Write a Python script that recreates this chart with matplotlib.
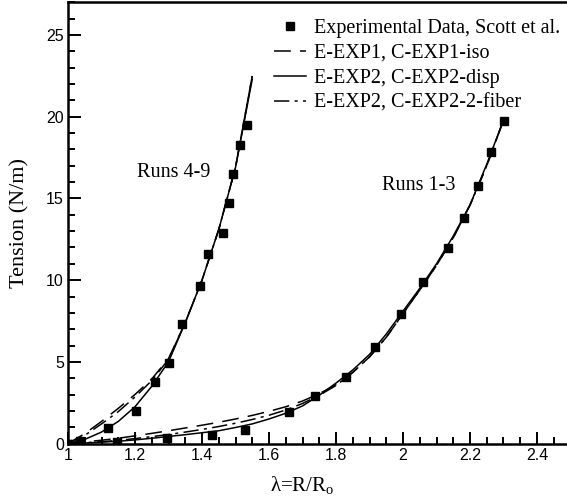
import numpy as np
import matplotlib
matplotlib.use("Agg")
import matplotlib.pyplot as plt
from matplotlib.ticker import MultipleLocator

# measured stretch / tension, Scott et al.
runs49_x = [1.0, 1.036, 1.118, 1.203, 1.26, 1.30, 1.341, 1.394, 1.419, 1.462, 1.482, 1.493, 1.513, 1.534]
runs49_y = [0.0, 0.15, 0.95, 1.99, 3.76, 4.9, 7.3, 9.64, 11.6, 12.86, 14.7, 16.5, 18.3, 19.5]
runs13_x = [1.0, 1.147, 1.295, 1.429, 1.528, 1.659, 1.737, 1.829, 1.916, 1.994, 2.061, 2.133, 2.181, 2.223, 2.262, 2.301]
runs13_y = [0.0, 0.1, 0.36, 0.52, 0.83, 1.95, 2.9, 4.09, 5.89, 7.9, 9.9, 11.95, 13.78, 15.76, 17.82, 19.74]

# model curves, runs 4-9
fit49_x = [1.0, 1.05, 1.1, 1.15, 1.2, 1.25, 1.3, 1.35, 1.4, 1.45, 1.5, 1.55]
fit49_iso = [0.0, 0.6, 1.35, 2.15, 3.0, 3.95, 5.2, 7.4, 10.0, 13.1, 16.9, 22.5]
fit49_disp = [0.0, 0.25, 0.7, 1.35, 2.25, 3.5, 5.0, 7.4, 10.0, 13.1, 16.9, 22.3]
fit49_fib = [0.0, 0.5, 1.2, 1.95, 2.85, 3.85, 5.15, 7.4, 10.0, 13.1, 16.9, 22.5]

# model curves, runs 1-3
fit13_x = [1.0, 1.05, 1.1, 1.15, 1.2, 1.25, 1.3, 1.35, 1.4, 1.45, 1.5, 1.55, 1.6, 1.65,
           1.7, 1.75, 1.8, 1.85, 1.9, 1.95, 2.0, 2.05, 2.1, 2.15, 2.2, 2.25, 2.3]
fit13_iso = [0.0, 0.1, 0.2, 0.32, 0.47, 0.62, 0.78, 0.95, 1.12, 1.3, 1.5, 1.72, 1.97, 2.25,
             2.6, 3.05, 3.6, 4.35, 5.3, 6.5, 7.95, 9.4, 10.9, 12.6, 14.6, 17.0, 19.8]
fit13_disp = [0.0, 0.03, 0.08, 0.14, 0.22, 0.32, 0.43, 0.54, 0.66, 0.78, 0.98, 1.2, 1.5, 1.85,
              2.3, 2.95, 3.7, 4.5, 5.45, 6.7, 8.1, 9.5, 11.0, 12.7, 14.6, 17.1, 19.8]
fit13_fib = [0.0, 0.05, 0.11, 0.19, 0.3, 0.42, 0.55, 0.7, 0.86, 1.04, 1.24, 1.47, 1.73, 2.05,
             2.45, 2.95, 3.55, 4.35, 5.3, 6.5, 7.95, 9.4, 10.9, 12.6, 14.6, 17.0, 19.8]

labels = ["Experimental Data, Scott et al.",
          "E-EXP1, C-EXP1-iso",
          "E-EXP2, C-EXP2-disp",
          "E-EXP2, C-EXP2-2-fiber"]

serif = ["Liberation Serif", "DejaVu Serif"]
sans = ["Liberation Sans", "DejaVu Sans"]

fig = plt.figure(figsize=(5.67, 5.01), dpi=100)
ax = fig.add_axes([68 / 567, 57.5 / 501, 502.5 / 567, 441 / 501])

dashed = (0, (11, 6))
dashdot = (0, (10, 3.5, 2, 3.5))
lw = 1.1

ax.plot(runs49_x, runs49_y, "s", color="black", ms=6, label=labels[0], zorder=3)
ax.plot(runs13_x, runs13_y, "s", color="black", ms=6, zorder=3)

ax.plot(fit49_x, fit49_iso, color="black", lw=lw, linestyle=dashed, label=labels[1])
ax.plot(fit49_x, fit49_disp, color="black", lw=lw, linestyle="-", label=labels[2])
ax.plot(fit49_x, fit49_fib, color="black", lw=lw, linestyle=dashdot, label=labels[3])
ax.plot(fit13_x, fit13_iso, color="black", lw=lw, linestyle=dashed)
ax.plot(fit13_x, fit13_disp, color="black", lw=lw, linestyle="-")
ax.plot(fit13_x, fit13_fib, color="black", lw=lw, linestyle=dashdot)

ax.set_xlim(1.0, 2.5)
ax.set_ylim(0, 27)
ax.xaxis.set_major_locator(MultipleLocator(0.2))
ax.xaxis.set_minor_locator(MultipleLocator(0.05))
ax.yaxis.set_major_locator(MultipleLocator(5))
ax.yaxis.set_minor_locator(MultipleLocator(1))
ax.xaxis.set_major_formatter(plt.FuncFormatter(lambda v, p: f"{v:g}"))

ax.tick_params(which="both", direction="in", top=False, right=False, width=1.4)
ax.tick_params(which="major", length=9, labelsize=11.5, pad=3)
ax.tick_params(which="minor", length=5)
for lab in ax.get_xticklabels() + ax.get_yticklabels():
    lab.set_family(sans)

for s in ax.spines.values():
    s.set_linewidth(1.8)

ax.set_ylabel("Tension (N/m)", family=serif, fontsize=16)
ax.yaxis.set_label_coords(-0.076, 0.5)
fig.text(302 / 567, 1 - 486 / 501, "λ=R/R$_{\\mathregular{o}}$", family=serif,
         fontsize=15, ha="center", va="center")

ax.text(1.206, 16.6, "Runs 4-9", family=serif, fontsize=14.5, va="center")
ax.text(1.936, 15.8, "Runs 1-3", family=serif, fontsize=14.5, va="center")

leg = ax.legend(loc="upper left", bbox_to_anchor=(0.393, 0.982), frameon=False,
                prop={"family": serif, "size": 14.5}, handlelength=1.6,
                handletextpad=0.4, labelspacing=0.3, borderaxespad=0)

fig.savefig("out.png", dpi=100)
